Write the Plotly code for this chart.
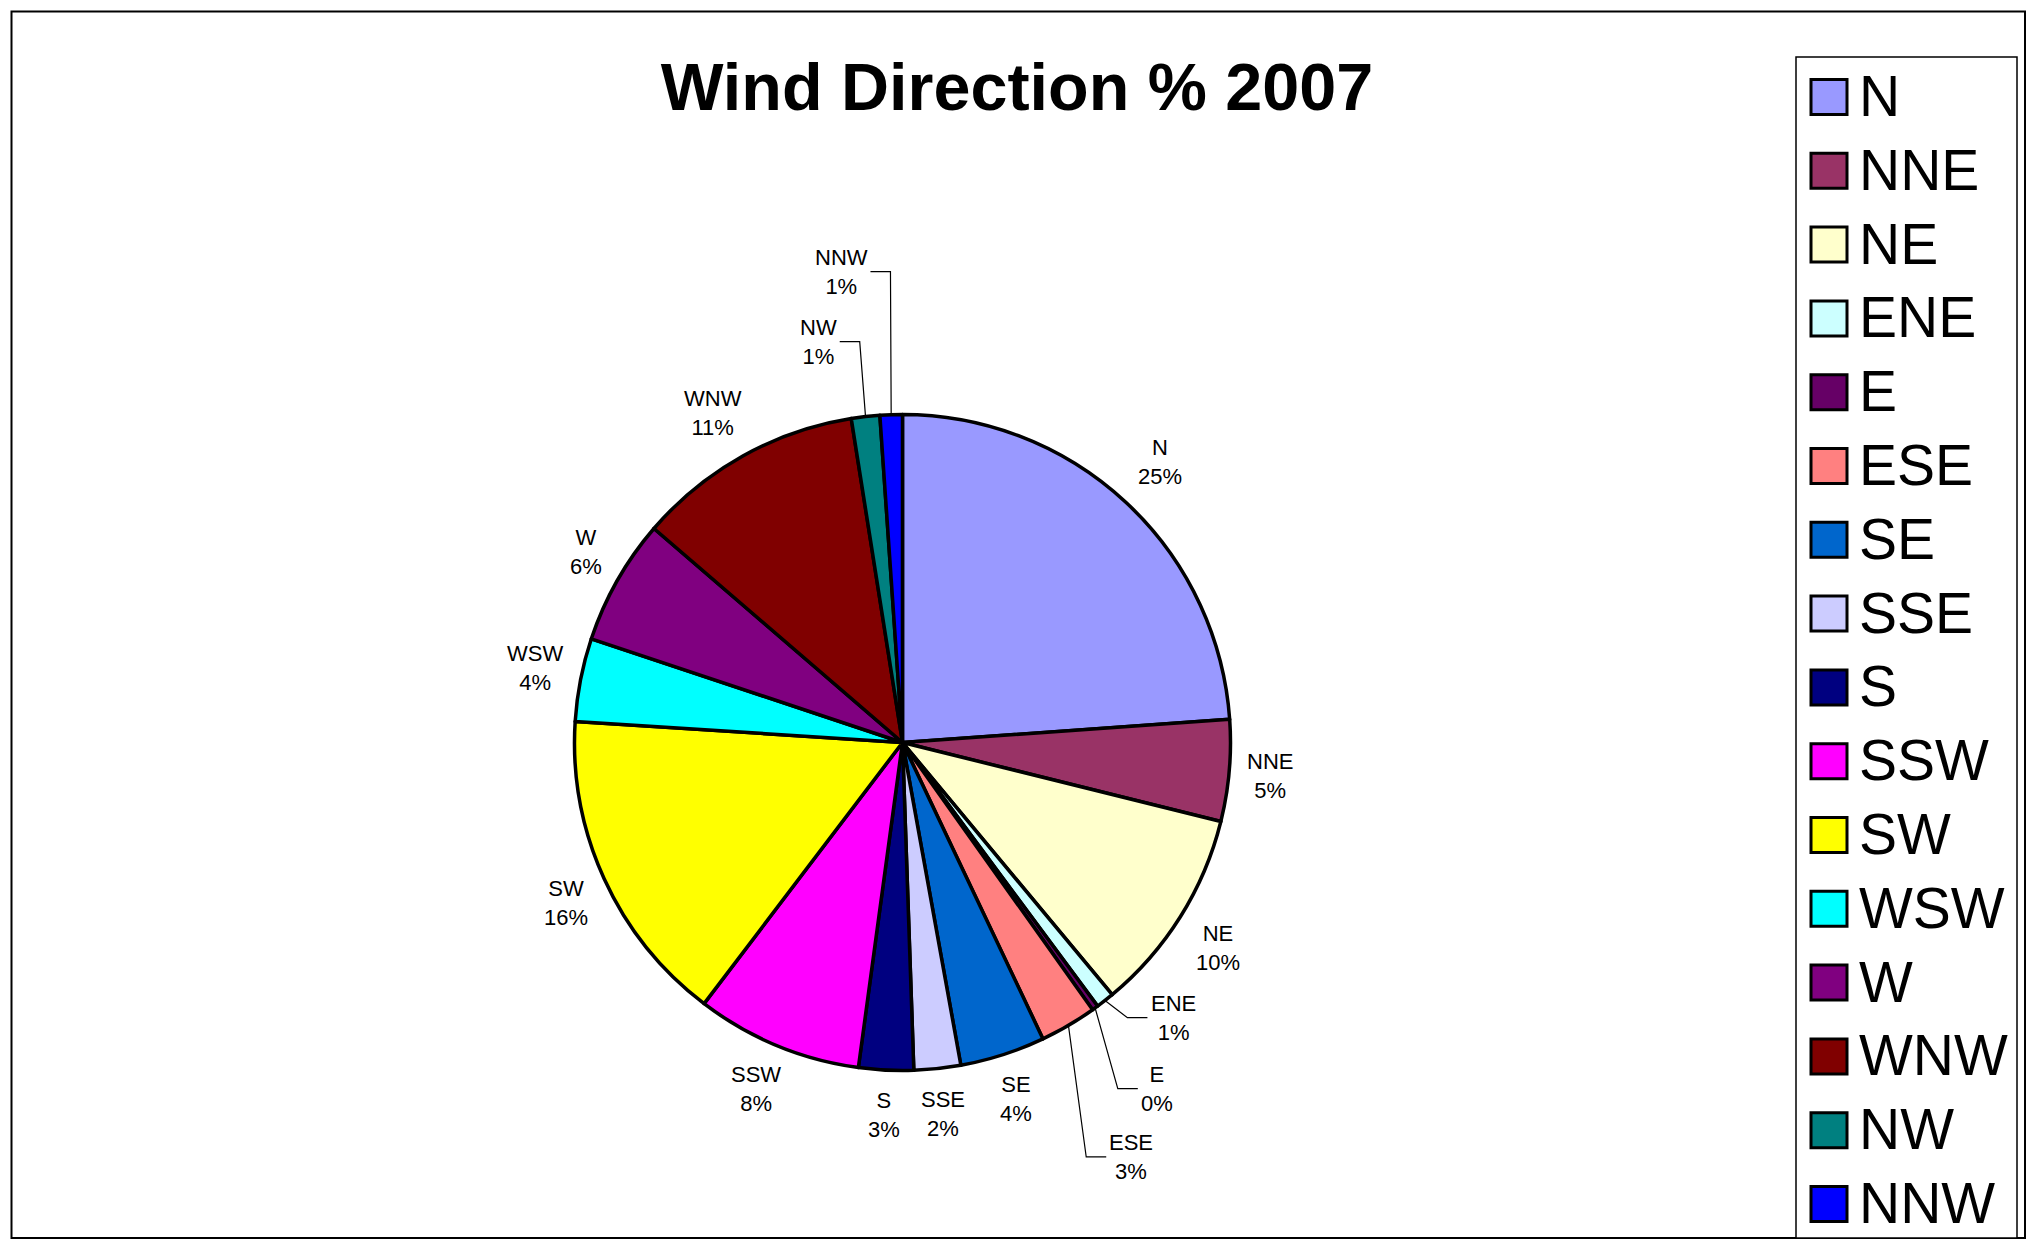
import math
import plotly.graph_objects as go

# ---------------- data ----------------
directions = ["N", "NNE", "NE", "ENE", "E", "ESE", "SE", "SSE",
              "S", "SSW", "SW", "WSW", "W", "WNW", "NW", "NNW"]
values = [23.9, 5.0, 10.1, 0.9, 0.3, 2.8, 4.2, 2.3,
          2.7, 8.2, 15.7, 4.1, 6.2, 11.2, 1.4, 1.1]
pct_labels = ["25%", "5%", "10%", "1%", "0%", "3%", "4%", "2%",
              "3%", "8%", "16%", "4%", "6%", "11%", "1%", "1%"]
colors = ["#9999FF", "#993366", "#FFFFCC", "#CCFFFF", "#660066", "#FF8080",
          "#0066CC", "#CCCCFF", "#000080", "#FF00FF", "#FFFF00", "#00FFFF",
          "#800080", "#800000", "#008080", "#0000FF"]
title_text = "Wind Direction % 2007"

# ---------------- layout settings ----------------
W, H = 2039, 1254          # page size
BODY = 8                   # default html body margin
FW, FH = W - 2 * BODY, H - 2 * BODY
FONT = "Liberation Sans, Arial, sans-serif"


def xp(x):
    return (x - BODY) / FW


def yp(y):
    return 1 - (y - BODY) / FH


cx, cy, R = 902.5, 742.5, 328      # pie geometry in page pixels
LABEL_SIZE = 22
LABEL_GAP = 18
LABEL_HALF_H = 27
# crowded labels moved away from their default spot (pixels), with leader lines
label_nudge = {"NNW": (-48, -98), "NW": (-42, -30),
               "ENE": (36, -24), "E": (37, 39), "ESE": (37, 89)}

# Arial advance widths (per 1000 em) for the characters used in labels
ARIAL_W = {"N": 722, "E": 667, "S": 667, "W": 944, "%": 889}


def text_width(s, size):
    return sum(ARIAL_W.get(ch, 556) for ch in s) * size / 1000.0


def clamp(v):
    return max(-1.0, min(1.0, v))


fig = go.Figure()
fig.add_trace(go.Pie(
    labels=directions,
    values=values,
    text=pct_labels,
    textinfo="none",
    textposition="none",
    sort=False,
    direction="clockwise",
    rotation=0,
    marker=dict(colors=colors, line=dict(color="black", width=3.5)),
    showlegend=False,
    hoverinfo="label+text",
    domain=dict(x=[xp(cx - R), xp(cx + R)],
                y=[yp(cy + R), yp(cy - R)]),
))

shapes = []
annotations = []

# data labels, positioned from the slice mid-angles
total = float(sum(values))
cum = 0.0
for name, v, pct in zip(directions, values, pct_labels):
    mid = (cum + v / 2.0) / total * 2 * math.pi
    cum += v
    s, c = math.sin(mid), math.cos(mid)
    hw = max(text_width(name, LABEL_SIZE), text_width(pct, LABEL_SIZE)) / 2.0
    lx = cx + (R + LABEL_GAP) * s + hw * clamp(1.5 * s)
    ly = cy - (R + LABEL_GAP) * c - LABEL_HALF_H * clamp(1.5 * c)
    if name in label_nudge:
        dx, dy = label_nudge[name]
        lx += dx
        ly += dy
        ex, ey = cx + R * s, cy - R * c
        side = 1 if lx > ex else -1
        x_start = lx - side * (hw + 3)
        x_elbow = x_start - side * 20
        path = "M {} {} L {} {} L {} {}".format(
            xp(x_start), yp(ly), xp(x_elbow), yp(ly), xp(ex), yp(ey))
        shapes.append(dict(type="path", xref="paper", yref="paper", path=path,
                           line=dict(color="black", width=1.2)))
    annotations.append(dict(text=name + "<br>" + pct, xref="paper", yref="paper",
                            x=xp(lx), y=yp(ly), xanchor="center", yanchor="middle",
                            align="center", showarrow=False,
                            font=dict(family=FONT, size=LABEL_SIZE, color="black")))

# outer chart border
shapes.append(dict(type="rect", xref="paper", yref="paper",
                   x0=xp(11.5), x1=xp(2025), y0=yp(1238), y1=yp(11.5),
                   line=dict(color="black", width=2), fillcolor="rgba(0,0,0,0)"))
# legend box
shapes.append(dict(type="rect", xref="paper", yref="paper",
                   x0=xp(1796), x1=xp(2017), y0=yp(1238), y1=yp(57),
                   line=dict(color="black", width=1.5), fillcolor="white"))

# legend entries
y_first, step, half = 97, 73.8, 17.5
for i, (name, col) in enumerate(zip(directions, colors)):
    yc = y_first + i * step
    shapes.append(dict(type="rect", xref="paper", yref="paper",
                       x0=xp(1811), x1=xp(1847),
                       y0=yp(yc + half), y1=yp(yc - half),
                       line=dict(color="black", width=3), fillcolor=col))
    annotations.append(dict(text=name, xref="paper", yref="paper",
                            x=xp(1857), y=yp(yc - 1),
                            xanchor="left", yanchor="middle", showarrow=False,
                            font=dict(family=FONT, size=57, color="black")))

fig.update_layout(
    width=FW, height=FH,
    margin=dict(l=0, r=0, t=0, b=0),
    paper_bgcolor="white",
    plot_bgcolor="white",
    title=dict(text="<b>" + title_text + "</b>", x=xp(1017), xanchor="center",
               y=yp(86.5), yanchor="middle",
               font=dict(family=FONT, size=66.5, color="black")),
    shapes=shapes,
    annotations=annotations,
)

fig.write_html("out.html")
